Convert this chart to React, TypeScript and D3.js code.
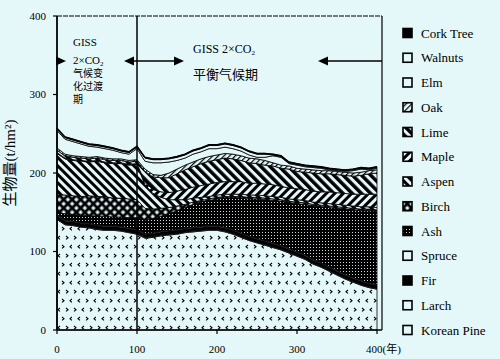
import React, { useRef, useEffect } from 'react';
import * as d3 from 'd3';

// years of simulation, every 10 years
const years = [0, 10, 20, 30, 40, 50, 60, 70, 80, 90, 100, 110, 120, 130, 140, 150, 160, 170, 180, 190, 200,
  210, 220, 230, 240, 250, 260, 270, 280, 290, 300, 310, 320, 330, 340, 350, 360, 370, 380, 390, 400];

// biomass (t/hm2) per species
const koreanPine = [141, 134, 133, 131, 130, 128, 127, 127, 126, 124, 122, 117, 118, 120, 121, 122, 124, 125, 126, 127, 127,
  125, 122, 118, 114, 111, 108, 105, 102, 98, 94, 90, 84, 80, 75, 70, 65, 61, 57, 54, 52];
const larch = [1, 1, 1, 1, 1, 1, 1, 1, 1, 1, 1, 1, 1, 1, 1, 1, 1, 1, 1, 1, 1,
  1, 1, 1, 1, 1, 1, 1, 1, 1, 1, 1, 1, 1, 1, 1, 1, 1, 1, 1, 1];
const fir = [4, 4, 4, 4, 4, 4, 4, 4, 4, 4, 4, 4, 4, 4, 4, 4, 4, 4, 4, 4, 4,
  4, 4, 4, 4, 4, 4, 4, 4, 4, 4, 4, 4, 4, 4, 4, 4, 4, 4, 4, 4];
const spruce = [1, 1, 1, 1, 1, 1, 1, 1, 1, 1, 1, 1, 1, 1, 1, 1, 1, 1, 1, 1, 1,
  1, 1, 1, 1, 1, 1, 1, 1, 1, 1, 1, 1, 1, 1, 1, 1, 1, 1, 1, 1];
const ash = [3, 8, 8, 9, 10, 11, 12, 11, 12, 13, 15, 17, 18, 19, 21, 24, 26, 29, 31, 32, 34,
  37, 40, 44, 47, 50, 52, 54, 56, 58, 61, 64, 68, 71, 75, 79, 83, 86, 89, 92, 93];
const birch = [22, 24, 24, 24, 25, 25, 25, 24, 24, 24, 23, 15, 12, 10, 8, 6, 4, 3, 2, 2, 2,
  2, 2, 2, 2, 2, 2, 2, 2, 2, 2, 2, 2, 2, 2, 2, 2, 2, 2, 2, 2];
const aspen = [53, 46, 45, 45, 43, 45, 43, 44, 44, 43, 45, 30, 20, 14, 10, 8, 6, 5, 4, 3, 3,
  3, 3, 3, 3, 3, 3, 3, 3, 3, 3, 3, 3, 3, 3, 3, 3, 3, 3, 3, 3];
const maple = [1, 1, 1, 1, 1, 1, 1, 1, 1, 1, 1, 3, 5, 7, 9, 11, 13, 14, 15, 16, 16,
  16, 16, 16, 15, 15, 15, 15, 14, 14, 14, 14, 14, 14, 15, 15, 15, 15, 16, 16, 17];
const lime = [3, 3, 3, 3, 3, 3, 3, 3, 3, 3, 3, 14, 16, 18, 19, 22, 25, 26, 28, 29, 29,
  30, 29, 27, 26, 25, 24, 24, 23, 24, 22, 22, 23, 23, 23, 23, 23, 23, 24, 26, 27];
const oak = [3, 2, 2, 2, 2, 2, 2, 2, 2, 2, 2, 3, 3, 3, 6, 6, 6, 6, 6, 6, 6,
  6, 6, 6, 6, 6, 6, 4, 4, 4, 4, 4, 4, 4, 4, 4, 4, 4, 4, 4, 4];
const elm = [22, 19, 18, 16, 14, 12, 12, 11, 8, 8, 14, 10, 15, 16, 14, 11, 9, 10, 9, 10, 8,
  8, 7, 6, 4, 2, 4, 9, 10, 3, 4, 3, 3, 3, 1, 1, 1, 3, 4, 1, 2];
const walnuts = [2, 2, 2, 2, 2, 2, 2, 2, 2, 2, 2, 4, 4, 4, 4, 4, 4, 4, 4, 4, 4,
  4, 4, 4, 4, 4, 4, 1, 1, 1, 1, 1, 1, 1, 1, 1, 1, 1, 1, 1, 1];
const corkTree = [1, 1, 1, 1, 1, 1, 1, 1, 1, 1, 1, 1, 1, 1, 1, 1, 1, 1, 1, 1, 1,
  1, 1, 1, 1, 1, 1, 1, 1, 1, 1, 1, 1, 1, 1, 1, 1, 1, 1, 1, 1];

// stacking order, bottom to top
const species = ["Korean Pine", "Larch", "Fir", "Spruce", "Ash", "Birch", "Aspen", "Maple", "Lime", "Oak", "Elm", "Walnuts", "Cork Tree"];
const seriesValues = [koreanPine, larch, fir, spruce, ash, birch, aspen, maple, lime, oak, elm, walnuts, corkTree];

const yTicks = [0, 100, 200, 300, 400];
const xTicks = [0, 100, 200, 300, 400];

const bg = "#e4f8fa";
const serif = "'Liberation Serif', 'DejaVu Serif', 'Noto Sans CJK SC', serif";

const fills: Record<string, string> = {
  "Korean Pine": "url(#p-pine)",
  "Larch": bg,
  "Fir": "#000",
  "Spruce": bg,
  "Ash": "url(#p-ash)",
  "Birch": "url(#p-birch)",
  "Aspen": "url(#p-aspen)",
  "Maple": "url(#p-maple)",
  "Lime": "url(#p-lime)",
  "Oak": "url(#p-oak)",
  "Elm": bg,
  "Walnuts": bg,
  "Cork Tree": "#000",
};

const App: React.FC = () => {
  const svgRef = useRef<SVGSVGElement>(null);
  const width = 500;
  const height = 359;

  useEffect(() => {
    if (!svgRef.current) return;
    const svg = d3.select(svgRef.current);
    svg.selectAll("*").remove();

    const x = d3.scaleLinear().domain([0, 400]).range([57, 377]);
    const y = d3.scaleLinear().domain([0, 400]).range([330, 16]);
    const frameRight = 382;

    svg.append("rect").attr("width", width).attr("height", height).attr("fill", bg);

    // patterns
    const defs = svg.append("defs");
    const stripes = (id: string, angle: number, w: number, bw: number) => {
      const p = defs.append("pattern").attr("id", id)
        .attr("patternUnits", "userSpaceOnUse")
        .attr("width", w).attr("height", w)
        .attr("patternTransform", `rotate(${angle})`);
      p.append("rect").attr("width", w).attr("height", w).attr("fill", bg);
      p.append("rect").attr("width", bw).attr("height", w).attr("fill", "#000");
    };
    stripes("p-aspen", -45, 6, 3);
    stripes("p-maple", 45, 6, 3);
    stripes("p-lime", -45, 6.5, 3.5);
    stripes("p-oak", 45, 4, 1.2);

    const pine = defs.append("pattern").attr("id", "p-pine")
      .attr("patternUnits", "userSpaceOnUse").attr("width", 24).attr("height", 18);
    pine.append("rect").attr("width", 24).attr("height", 18).attr("fill", bg);
    pine.append("path")
      .attr("d", "M2,2 l2,1.7 l-2,1.7 M12,2 l-2,1.7 l2,1.7 M18,2 l2,1.7 l-2,1.7 " +
        "M8,11 l-2,1.7 l2,1.7 M14,11 l2,1.7 l-2,1.7 M24,11 l-2,1.7 l2,1.7")
      .attr("fill", "none").attr("stroke", "#000").attr("stroke-width", 1.1);

    const ashP = defs.append("pattern").attr("id", "p-ash")
      .attr("patternUnits", "userSpaceOnUse").attr("width", 3).attr("height", 3);
    ashP.append("rect").attr("width", 3).attr("height", 3).attr("fill", "#000");
    ashP.append("rect").attr("x", 1).attr("y", 1).attr("width", 1).attr("height", 1).attr("fill", "#c8d8d8");

    const birchP = defs.append("pattern").attr("id", "p-birch")
      .attr("patternUnits", "userSpaceOnUse").attr("width", 6).attr("height", 6)
      .attr("patternTransform", "rotate(45)");
    birchP.append("rect").attr("width", 6).attr("height", 6).attr("fill", "#000");
    birchP.append("rect").attr("x", 1.5).attr("y", 1.5).attr("width", 3.2).attr("height", 3.2).attr("fill", bg);

    // stacked data
    const table = years.map((yr, i) => {
      const row: Record<string, number> = { year: yr };
      species.forEach((s, k) => { row[s] = seriesValues[k][i]; });
      return row;
    });
    const stacked = d3.stack<Record<string, number>>().keys(species)(table);

    const area = d3.area<d3.SeriesPoint<Record<string, number>>>()
      .x(d => x(d.data.year))
      .y0(d => y(d[0]))
      .y1(d => y(d[1]));

    svg.append("g").selectAll("path")
      .data(stacked)
      .join("path")
      .attr("d", area)
      .attr("fill", d => fills[d.key])
      .attr("stroke", "#000")
      .attr("stroke-width", 0.8);

    // outer top line
    const topLine = d3.line<d3.SeriesPoint<Record<string, number>>>()
      .x(d => x(d.data.year))
      .y(d => y(d[1]));
    svg.append("path")
      .datum(stacked[stacked.length - 1])
      .attr("d", topLine)
      .attr("fill", "none")
      .attr("stroke", "#000")
      .attr("stroke-width", 1.4);

    // frame and axes
    const frame = svg.append("g").attr("stroke", "#000");
    frame.append("line").attr("x1", x(0)).attr("x2", frameRight).attr("y1", y(400)).attr("y2", y(400))
      .attr("stroke-width", 1).attr("stroke-dasharray", "5,1");
    frame.append("line").attr("x1", frameRight).attr("x2", frameRight).attr("y1", y(400)).attr("y2", y(0))
      .attr("stroke-width", 1.2);
    frame.append("line").attr("x1", x(0)).attr("x2", frameRight).attr("y1", y(0)).attr("y2", y(0))
      .attr("stroke-width", 1.3);
    frame.append("line").attr("x1", x(0)).attr("x2", x(0)).attr("y1", y(400)).attr("y2", y(0))
      .attr("stroke-width", 1.8);
    frame.append("line").attr("x1", x(100)).attr("x2", x(100)).attr("y1", y(400)).attr("y2", y(0))
      .attr("stroke-width", 1.5);

    const yAxis = svg.append("g").style("font-family", serif).style("font-size", "11px");
    yAxis.selectAll("line").data(yTicks).join("line")
      .attr("x1", x(0) - 4).attr("x2", x(0)).attr("y1", d => y(d)).attr("y2", d => y(d))
      .attr("stroke", "#000").attr("stroke-width", 1.2);
    yAxis.selectAll("text").data(yTicks).join("text")
      .attr("x", x(0) - 11).attr("y", d => y(d)).attr("dy", "0.35em")
      .attr("text-anchor", "end")
      .text(d => d);

    const xAxis = svg.append("g").style("font-family", serif).style("font-size", "11px");
    xAxis.selectAll("line").data(xTicks).join("line")
      .attr("x1", d => x(d)).attr("x2", d => x(d)).attr("y1", y(0)).attr("y2", y(0) + 4)
      .attr("stroke", "#000").attr("stroke-width", 1.2);
    xAxis.selectAll("text").data(xTicks).join("text")
      .attr("x", d => d === 400 ? x(d) - 11 : x(d)).attr("y", 353)
      .attr("text-anchor", d => d === 400 ? "start" : "middle")
      .text(d => d === 400 ? "400(年)" : String(d));

    svg.append("text")
      .attr("transform", `translate(15,163) rotate(-90)`)
      .attr("text-anchor", "middle")
      .style("font-family", serif).style("font-size", "15px")
      .text("生物量(t/hm²)");

    // annotations
    const note = svg.append("g").style("font-family", serif).attr("fill", "#000");
    note.append("text").attr("x", 73).attr("y", 46).style("font-size", "11px").text("GISS");
    const co2a = note.append("text").attr("x", 73).attr("y", 64).style("font-size", "11px");
    co2a.append("tspan").text("2×CO");
    co2a.append("tspan").attr("dy", 2).style("font-size", "7px").text("2");
    ["气候变", "化过渡", "期"].forEach((t, i) => {
      note.append("text").attr("x", 73).attr("y", 77 + i * 13).style("font-size", "10px").text(t);
    });
    const co2b = note.append("text").attr("x", 193).attr("y", 53).style("font-size", "12px");
    co2b.append("tspan").text("GISS 2×CO");
    co2b.append("tspan").attr("dy", 2).style("font-size", "7px").text("2");
    note.append("text").attr("x", 193).attr("y", 79).style("font-size", "13px").text("平衡气候期");

    // arrows
    const ay = 61;
    const arrows = svg.append("g");
    arrows.append("line").attr("x1", x(0)).attr("x2", 60).attr("y1", ay).attr("y2", ay)
      .attr("stroke", "#000").attr("stroke-width", 1.5);
    arrows.append("line").attr("x1", 130).attr("x2", 176).attr("y1", ay).attr("y2", ay)
      .attr("stroke", "#000").attr("stroke-width", 1.5);
    arrows.append("line").attr("x1", 324).attr("x2", frameRight).attr("y1", ay).attr("y2", ay)
      .attr("stroke", "#000").attr("stroke-width", 1.5);
    const head = (tip: number, dir: number) =>
      `M${tip},${ay} L${tip - dir * 10},${ay - 4.5} L${tip - dir * 10},${ay + 4.5} Z`;
    [[66, 1], [124, -1], [184, 1], [318, -1]].forEach(([tip, dir]) => {
      arrows.append("path").attr("d", head(tip, dir)).attr("fill", "#000");
    });

    // legend, top to bottom
    const legendItems = [...species].reverse();
    const lg = svg.append("g").style("font-family", serif).style("font-size", "13px");
    legendItems.forEach((s, i) => {
      const cy = 33 + i * 24.75;
      lg.append("rect").attr("x", 403).attr("y", cy - 4.5).attr("width", 9).attr("height", 9)
        .attr("fill", s === "Korean Pine" ? bg : fills[s]).attr("stroke", "#000").attr("stroke-width", 1.6);
      lg.append("text").attr("x", 421).attr("y", cy + 4.5)
        .text(s);
    });
  }, []);

  return (
    <div style={{ position: "absolute", left: 0, top: 0 }}>
      <svg ref={svgRef} width={width} height={height} style={{ display: "block" }} />
    </div>
  );
};

export default App;
